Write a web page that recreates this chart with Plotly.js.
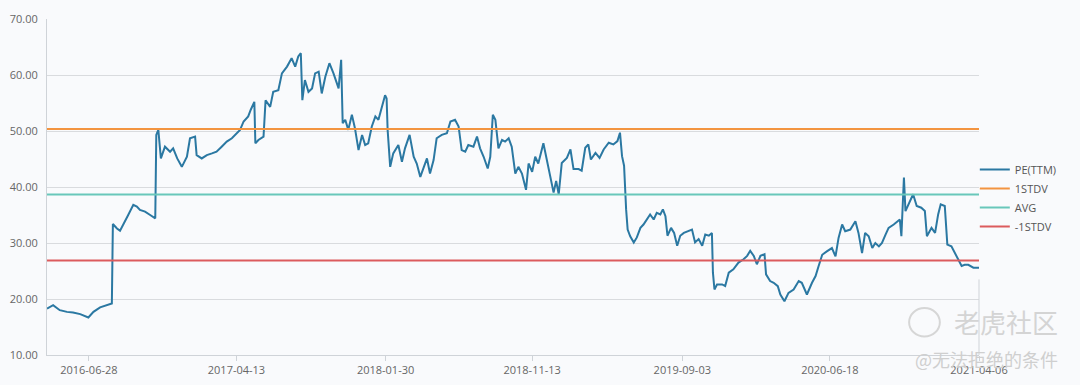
<!DOCTYPE html>
<html>
<head>
<meta charset="utf-8">
<script src="https://cdn.plot.ly/plotly-3.0.1.min.js"></script>
<style>
  html, body { margin: 0; padding: 0; background: #f9fafc; }
  #chart { width: 1080px; height: 385px; }
</style>
</head>
<body>
<div id="chart"></div>
<script>
// ---- data ----
const dates = [
  "2016-04-07","2016-04-19","2016-05-02","2016-05-16","2016-05-28","2016-06-11","2016-06-27","2016-07-07","2016-07-20","2016-08-02",
  "2016-08-12","2016-08-14","2016-08-22","2016-08-28","2016-09-07","2016-09-13","2016-09-23","2016-09-30","2016-10-06","2016-10-16",
  "2016-10-26","2016-11-05","2016-11-07","2016-11-11","2016-11-16","2016-11-24","2016-12-04","2016-12-10","2016-12-18","2016-12-27",
  "2017-01-06","2017-01-12","2017-01-22","2017-01-25","2017-02-04","2017-02-14","2017-02-24","2017-03-05","2017-03-15","2017-03-25",
  "2017-04-04","2017-04-14","2017-04-20","2017-04-27","2017-05-06","2017-05-11","2017-05-18","2017-05-20","2017-05-26","2017-06-05",
  "2017-06-09","2017-06-18","2017-06-24","2017-07-04","2017-07-11","2017-07-21","2017-07-30","2017-08-06","2017-08-12","2017-08-17",
  "2017-08-20","2017-08-25","2017-09-01","2017-09-08","2017-09-14","2017-09-21","2017-09-27","2017-10-04","2017-10-12","2017-10-20",
  "2017-10-30","2017-11-04","2017-11-07","2017-11-12","2017-11-18","2017-11-25","2017-12-01","2017-12-08","2017-12-15","2017-12-21",
  "2017-12-27","2018-01-03","2018-01-10","2018-01-16","2018-01-23","2018-01-29","2018-02-01","2018-02-03","2018-02-08","2018-02-14",
  "2018-02-24","2018-03-03","2018-03-09","2018-03-18","2018-03-26","2018-04-01","2018-04-08","2018-04-14","2018-04-21","2018-04-27",
  "2018-05-04","2018-05-10","2018-05-20","2018-05-30","2018-06-06","2018-06-15","2018-06-22","2018-06-28","2018-07-05","2018-07-11",
  "2018-07-21","2018-07-28","2018-08-03","2018-08-10","2018-08-18","2018-08-23","2018-08-28","2018-09-02","2018-09-08","2018-09-15",
  "2018-09-21","2018-09-28","2018-10-04","2018-10-11","2018-10-17","2018-10-24","2018-11-01","2018-11-06","2018-11-13","2018-11-19",
  "2018-11-25","2018-12-05","2018-12-12","2018-12-18","2018-12-25","2018-12-30","2019-01-04","2019-01-10","2019-01-20","2019-01-27",
  "2019-02-02","2019-02-12","2019-02-18","2019-02-25","2019-03-03","2019-03-08","2019-03-17","2019-03-25","2019-04-02","2019-04-12",
  "2019-04-21","2019-04-29","2019-05-04","2019-05-08","2019-05-12","2019-05-16","2019-05-19","2019-05-24","2019-05-31","2019-06-06",
  "2019-06-13","2019-06-19","2019-06-26","2019-07-02","2019-07-09","2019-07-15","2019-07-22","2019-07-27","2019-08-01","2019-08-05",
  "2019-08-12","2019-08-18","2019-08-24","2019-08-30","2019-09-06","2019-09-15","2019-09-22","2019-09-28","2019-10-05","2019-10-12",
  "2019-10-18","2019-10-25","2019-10-31","2019-11-02","2019-11-05","2019-11-10","2019-11-20","2019-11-26","2019-12-03","2019-12-12",
  "2019-12-22","2020-01-01","2020-01-08","2020-01-14","2020-01-21","2020-01-27","2020-02-03","2020-02-11","2020-02-14","2020-02-22",
  "2020-02-29","2020-03-08","2020-03-13","2020-03-21","2020-03-29","2020-04-08","2020-04-18","2020-04-24","2020-05-04","2020-05-14",
  "2020-05-21","2020-05-27","2020-06-03","2020-06-12","2020-06-22","2020-06-29","2020-07-05","2020-07-12","2020-07-18","2020-07-28",
  "2020-08-07","2020-08-13","2020-08-20","2020-08-26","2020-09-02","2020-09-09","2020-09-15","2020-09-22","2020-09-28","2020-10-05",
  "2020-10-11","2020-10-21","2020-10-28","2020-11-02","2020-11-05","2020-11-10","2020-11-13","2020-11-19","2020-11-28","2020-12-05",
  "2020-12-14","2020-12-21","2020-12-25","2021-01-03","2021-01-10","2021-01-16","2021-01-21","2021-01-29","2021-02-03","2021-02-11",
  "2021-02-18","2021-02-24","2021-03-03","2021-03-09","2021-03-16","2021-03-26","2021-04-06"
];
const peTTM = [
  18.3,18.9,18.0,17.7,17.6,17.3,16.7,17.7,18.5,18.9,
  19.2,33.4,32.6,32.2,33.8,35.0,36.8,36.5,35.9,35.6,
  35.0,34.4,49.3,50.2,45.1,47.2,46.3,46.9,45.1,43.6,
  45.4,48.7,49.0,45.7,45.1,45.7,46.0,46.3,47.2,48.1,
  48.7,49.6,50.2,51.7,52.6,53.8,55.2,47.8,48.4,49.0,
  55.5,54.3,57.0,57.3,60.3,61.5,63.0,61.5,63.3,63.9,
  55.5,59.1,57.0,57.6,60.3,60.6,56.7,59.7,62.1,60.3,
  57.6,62.7,51.4,52.0,50.2,52.9,50.5,46.6,49.3,47.5,
  47.8,50.8,52.6,52.0,54.6,56.4,55.8,50.2,43.6,46.0,
  47.5,44.5,46.9,49.3,45.4,44.2,41.8,43.3,45.1,42.4,
  44.8,48.7,49.3,49.6,51.7,52.0,50.8,46.6,46.3,47.5,
  47.2,49.0,46.9,45.4,43.3,45.4,52.9,52.0,46.9,48.4,
  48.1,48.7,47.2,42.4,43.6,42.4,39.5,44.2,42.7,45.4,
  44.2,47.8,44.8,42.1,39.0,41.1,38.7,44.3,45.2,46.7,
  43.2,43.2,42.9,47.0,47.6,44.9,46.1,45.2,46.7,47.9,
  47.6,48.2,49.7,45.5,43.8,36.0,32.4,31.2,30.1,31.0,
  32.7,33.3,34.2,35.1,34.2,35.4,35.1,36.0,34.8,31.3,
  32.7,31.8,29.5,31.3,31.8,32.1,32.4,30.1,30.7,29.5,
  31.5,31.3,31.8,24.7,21.7,22.6,22.6,22.3,24.7,25.3,
  26.5,27.1,27.7,28.6,27.7,26.2,27.7,28.0,24.4,23.2,
  22.9,22.3,20.8,19.6,21.1,21.7,23.2,22.9,20.8,22.9,
  24.1,25.9,27.9,28.5,29.1,27.6,30.9,33.3,32.1,32.4,
  33.9,31.8,28.2,31.8,31.2,29.1,30.0,29.4,30.0,31.5,
  32.7,33.3,33.9,34.2,31.2,41.7,35.7,36.9,38.7,36.6,
  36.3,35.7,31.2,32.7,31.8,35.1,36.9,36.6,29.7,29.4,
  28.2,27.0,25.9,26.1,26.1,25.6,25.6
];
const stdPlus = 50.35;   // 1STDV
const avgPE   = 38.65;   // AVG
const stdMinus = 26.88;  // -1STDV
const tickDates = ["2016-06-28","2017-04-13","2018-01-30","2018-11-13","2019-09-03","2020-06-18","2021-04-06"];
const yTicks = [10,20,30,40,50,60,70];

// ---- chart ----
const first = dates[0], last = dates[dates.length - 1];
const traces = [
  {x: dates, y: peTTM, name: "PE(TTM)", type: "scatter", mode: "lines",
   line: {color: "#2b78a2", width: 2}},
  {x: [first, last], y: [stdPlus, stdPlus], name: "1STDV", type: "scatter", mode: "lines",
   line: {color: "#f39440", width: 2}},
  {x: [first, last], y: [avgPE, avgPE], name: "AVG", type: "scatter", mode: "lines",
   line: {color: "#69c7ba", width: 2}},
  {x: [first, last], y: [stdMinus, stdMinus], name: "-1STDV", type: "scatter", mode: "lines",
   line: {color: "#dc5b5d", width: 2}}
];

const layout = {
  width: 1080, height: 385,
  margin: {l: 47, r: 101, t: 19, b: 30, pad: 0},
  paper_bgcolor: "#f9fafc",
  plot_bgcolor: "#f9fafc",
  font: {family: "Open Sans, sans-serif", size: 11, color: "#666666"},
  showlegend: true,
  legend: {
    x: 0.9955, xanchor: "left", y: 0.467, yanchor: "middle",
    bgcolor: "rgba(0,0,0,0)", font: {size: 11, color: "#555555"},
    tracegroupgap: 0
  },
  xaxis: {
    type: "date",
    range: [first, last],
    tickmode: "array",
    tickvals: tickDates,
    ticktext: tickDates,
    showgrid: false,
    showline: true, linecolor: "#cfd3d8", linewidth: 1,
    ticks: "outside", ticklen: 5, tickcolor: "#cfd3d8",
    tickfont: {size: 11, color: "#666666"},
    zeroline: false, fixedrange: true
  },
  yaxis: {
    range: [10, 70],
    tickmode: "array",
    tickvals: yTicks,
    tickformat: ".2f",
    showgrid: true, gridcolor: "#d9dbde", gridwidth: 1,
    showline: true, linecolor: "#cfd3d8", linewidth: 1,
    ticks: "", ticklabelstandoff: 6,
    tickfont: {size: 11, color: "#666666"},
    zeroline: false, fixedrange: true
  },
  shapes: [
    {type: "line", xref: "paper", yref: "paper", x0: 1, x1: 1, y0: 0, y1: 0.225,
     line: {color: "#cfd3d8", width: 1}},
    {type: "circle", xref: "paper", yref: "paper", x0: 0.925, x1: 0.958, y0: 0.055, y1: 0.14,
     line: {color: "#d6d6d6", width: 2}}
  ],
  annotations: [
    {text: "老虎社区", xref: "paper", yref: "paper", x: 1.087, y: 0.10, xanchor: "right", yanchor: "middle",
     showarrow: false, font: {family: "Noto Sans CJK SC", size: 26, color: "#d4d4d4"}},
    {text: "@无法拒绝的条件", xref: "paper", yref: "paper", x: 1.087, y: -0.012, xanchor: "right", yanchor: "middle",
     showarrow: false, font: {family: "Noto Sans CJK SC", size: 18, color: "#cfcfcf"}}
  ]
};

Plotly.newPlot("chart", traces, layout, {displayModeBar: false, staticPlot: true});
</script>
</body>
</html>
